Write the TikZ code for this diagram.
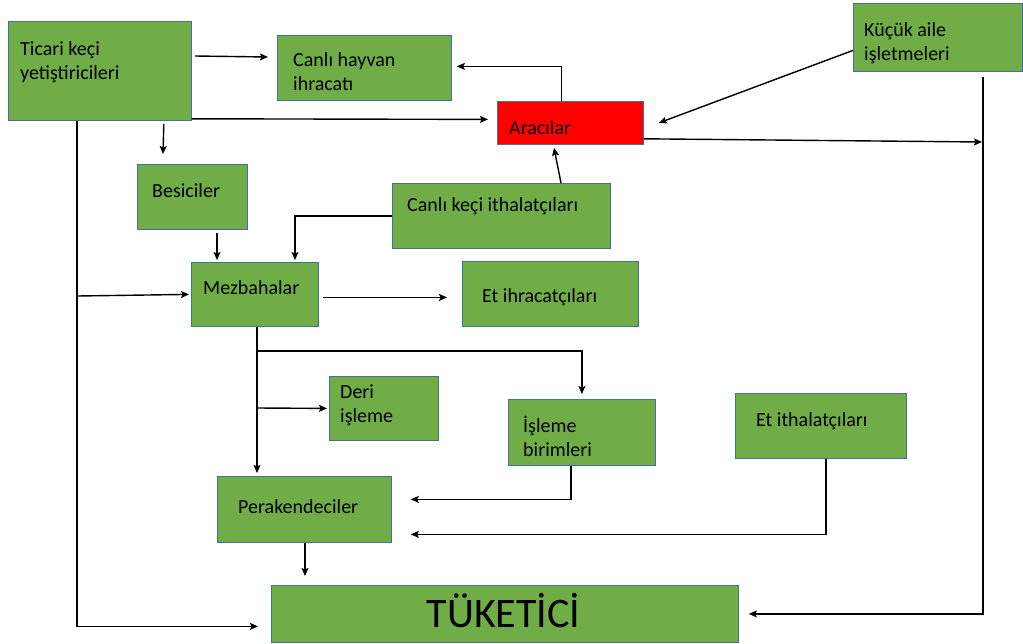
\documentclass[tikz,border=0pt]{standalone}
\usepackage{fontspec}
\setmainfont{Carlito}
\usetikzlibrary{arrows.meta,calc}
\definecolor{boxgreen}{HTML}{70AD47}
\definecolor{boxedge}{HTML}{41719C}
\definecolor{boxred}{HTML}{FF0000}
\newcommand{\twoln}[2]{\begin{tabular}[t]{@{}l@{}}#1\\#2\end{tabular}}
\begin{document}
\begin{tikzpicture}[x=1pt,y=-1pt,
  box/.style={draw=boxedge,line width=0.8pt,fill=boxgreen,anchor=north west,inner sep=0pt},
  redbox/.style={box,fill=boxred},
  lbl/.style={anchor=base west,inner sep=0pt,font=\fontsize{20}{24}\selectfont},
  arr/.style={draw=black,line width=1.4pt,-{Stealth[length=8pt,width=7pt,inset=1.5pt]}},
  ln/.style={draw=black,line width=1.4pt}]
\useasboundingbox (0,0) rectangle (1023,643);

% boxes
\node[box,minimum width=183pt,minimum height=99pt] (tc) at (8,21) {};
\node[box,minimum width=174pt,minimum height=65pt] (ch) at (277,35) {};
\node[redbox,minimum width=146pt,minimum height=43pt] (ar) at (497,101) {};
\node[box,minimum width=169pt,minimum height=68pt] (ka) at (853,3) {};
\node[box,minimum width=110pt,minimum height=65pt] (bs) at (137,164) {};
\node[box,minimum width=218pt,minimum height=65pt] (ck) at (392,183) {};
\node[box,minimum width=127pt,minimum height=64pt] (mz) at (191,262) {};
\node[box,minimum width=176pt,minimum height=65pt] (ei) at (462,261) {};
\node[box,minimum width=109pt,minimum height=64pt] (dr) at (329,376) {};
\node[box,minimum width=147pt,minimum height=66pt] (ib) at (508,399) {};
\node[box,minimum width=171pt,minimum height=65pt] (et) at (735,393) {};
\node[box,minimum width=174pt,minimum height=66pt] (pk) at (217,476) {};
\node[box,minimum width=467pt,minimum height=57pt] (tk) at (271,585) {};

% labels
\node[lbl] (tcl) at (20,55) {\twoln{Ticari keçi}{yetiştiricileri}};
\node[lbl] (chl) at (293,66) {\twoln{Canlı hayvan}{ihracatı}};
\node[lbl] (arl) at (509,134) {Aracılar};
\node[lbl] (kal) at (864,36) {\twoln{Küçük aile}{işletmeleri}};
\node[lbl] (bsl) at (152,197) {Besiciler};
\node[lbl] (ckl) at (407,211) {Canlı keçi ithalatçıları};
\node[lbl] (mzl) at (203,294) {Mezbahalar};
\node[lbl] (eil) at (482,302) {Et ihracatçıları};
\node[lbl] (drl) at (340,398) {\twoln{Deri}{işleme}};
\node[lbl] (ibl) at (523,432) {\twoln{İşleme}{birimleri}};
\node[lbl] (etl) at (756,426) {Et ithalatçıları};
\node[lbl] (pkl) at (238,513) {Perakendeciler};
\node[anchor=base,inner sep=0pt,font=\fontsize{42}{48}\selectfont] (tkl) at (503.5,627) {TÜKETİCİ};

% junction points on the trunk lines
\coordinate (j1) at (77,296);
\coordinate (j2) at (257,351);
\coordinate (j3) at (257,408);
\coordinate (rvj) at (982,142);

% connectors
\draw[arr] ([shift={(3,35)}]tc.north east) -- ([shift={(-9,22)}]ch.north west);
\draw[arr] ([shift={(-9,0)}]ar.north) |- ([shift={(5,-1.5)}]ch.east);
\draw[arr] ([shift={(0,-2)}]tc.south east) -- ([shift={(-9,-3.5)}]ar.west);
\draw[arr] ([shift={(0,13)}]ka.west) -- ([shift={(15,0)}]ar.east);
\draw[arr] ([shift={(0,-6)}]ar.south east) -- (rvj);
\draw[arr] ([shift={(-40,5)}]ka.south east) |- ([shift={(10,0)}]tk.east);
\draw[arr] ([shift={(69,0)}]tc.south west) |- ([shift={(-13,12.5)}]tk.west);
\draw[arr] (j1) -- ([shift={(-2,0)}]mz.west);
\draw[arr] ([shift={(-28,3)}]tc.south east) -- ([shift={(26,-10)}]bs.north west);
\draw[arr] ([shift={(80,3)}]bs.south west) -- ([shift={(26,-2)}]mz.north west);
\draw[arr] (ck.west) -| ([shift={(104,-2)}]mz.north west);
\draw[arr] ([shift={(169,0)}]ck.north west) -- ([shift={(57,3)}]ar.south west);
\draw[arr] ([shift={(4,3)}]mz.east) -- ([shift={(-15,3.5)}]ei.west);
\draw[arr] ([shift={(66,0)}]mz.south west) -- ([shift={(40,-3)}]pk.north west);
\draw[arr] (j2) -| ([shift={(0,-5)}]ib.north);
\draw[arr] (j3) -- ([shift={(-2,0)}]dr.west);
\draw[arr] ([shift={(63,0)}]ib.south west) |- ([shift={(19,-10)}]pk.east);
\draw[arr] ([shift={(91,0)}]et.south west) |- ([shift={(19,25)}]pk.east);
\draw[arr] ([shift={(88,0)}]pk.south west) -- ([shift={(34,-9)}]tk.north west);
\end{tikzpicture}
\end{document}
